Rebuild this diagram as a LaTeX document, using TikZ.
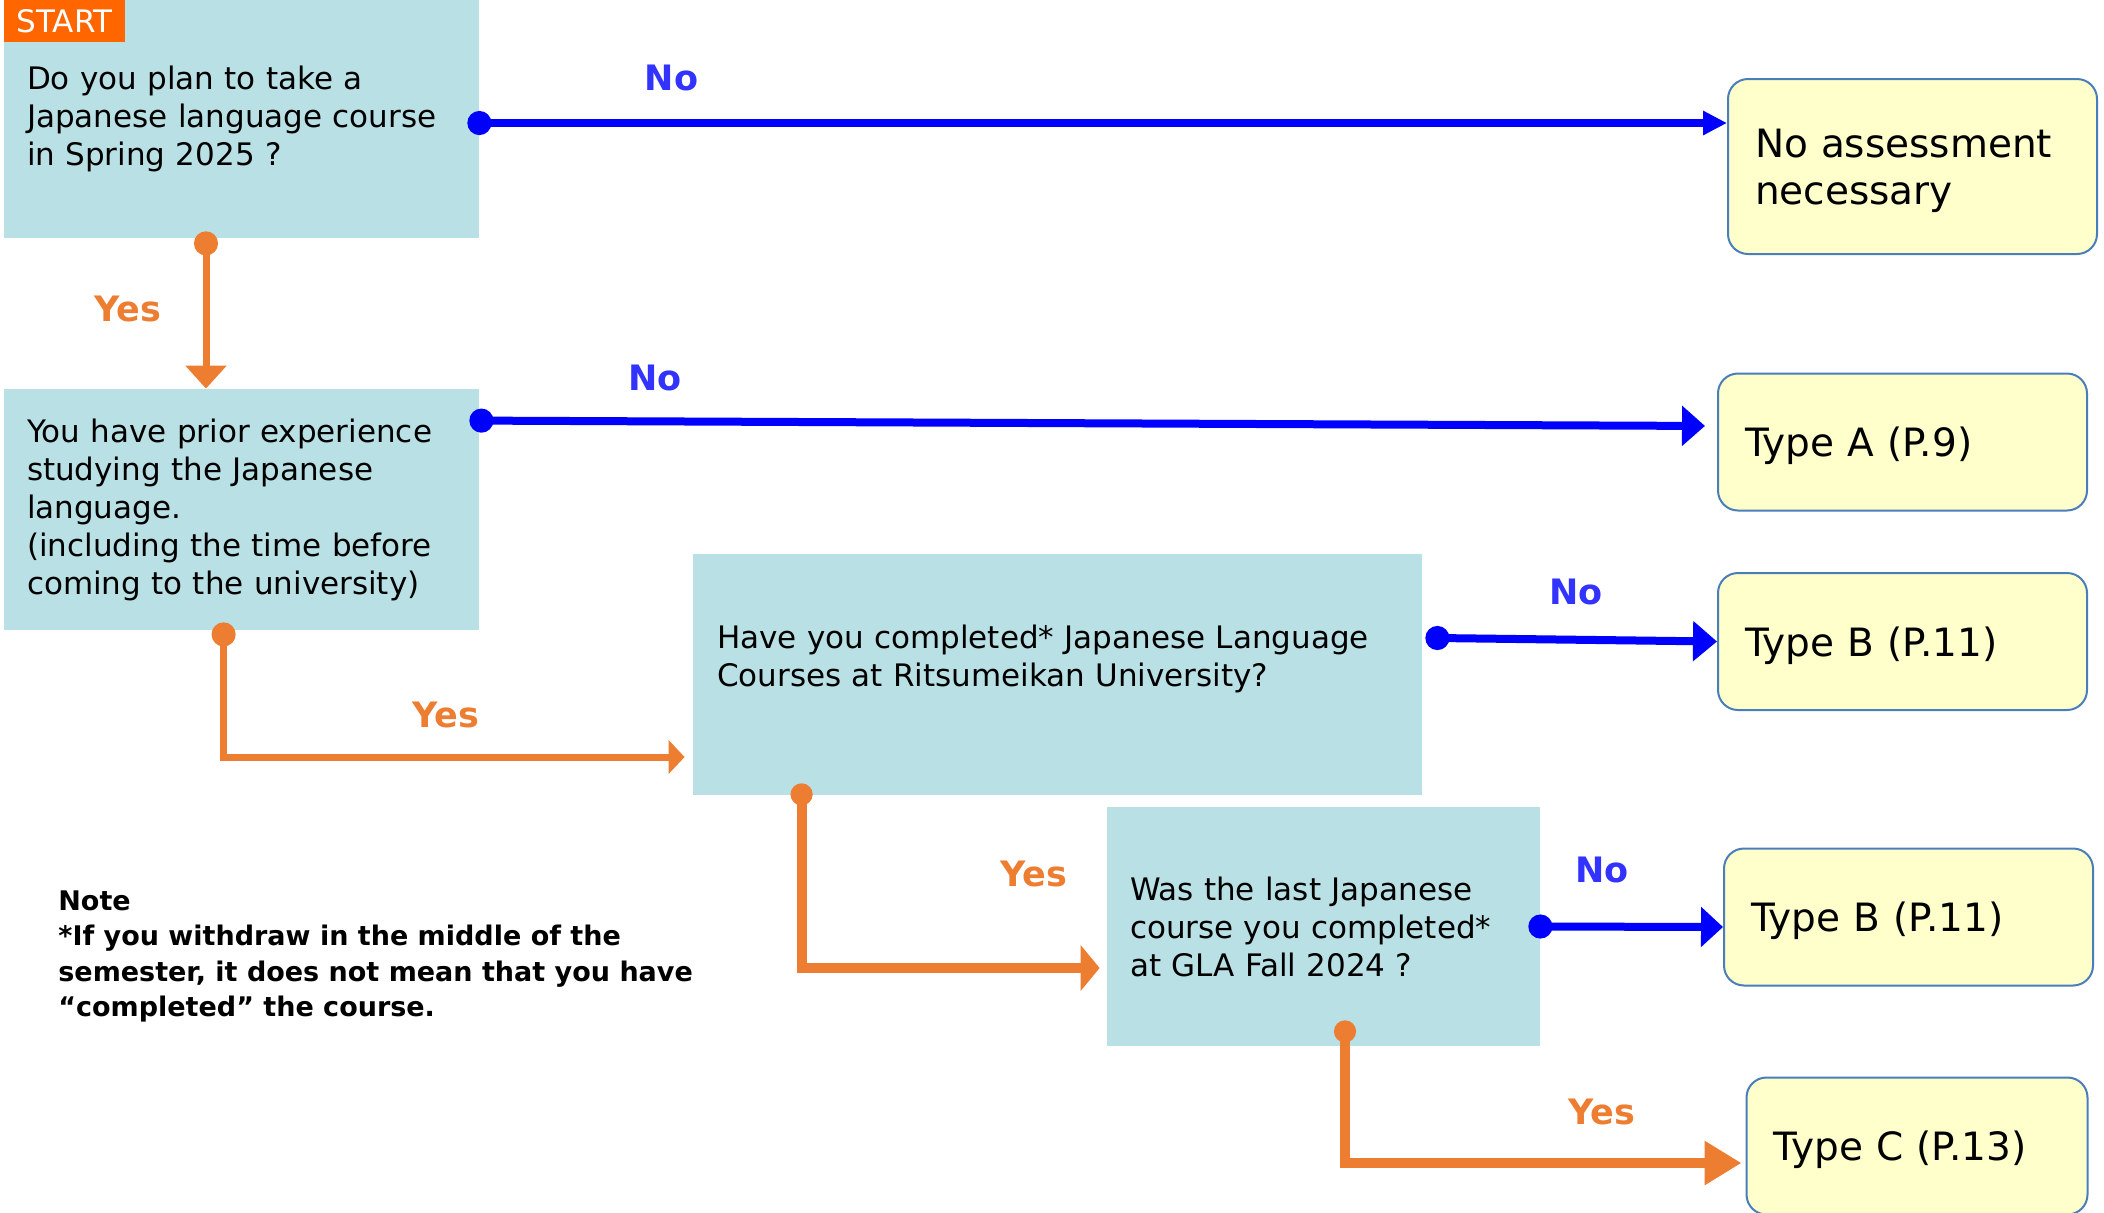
\documentclass[tikz,border=0pt]{standalone}
\usepackage{fontspec}
\setmainfont{DejaVu Sans}
\usetikzlibrary{arrows.meta}
\definecolor{qbleu}{RGB}{185,224,228}
\definecolor{rjaune}{RGB}{255,255,204}
\definecolor{rbord}{RGB}{74,126,187}
\definecolor{orangeoui}{RGB}{237,125,49}
\definecolor{orangestart}{RGB}{255,102,0}
\definecolor{bleunon}{RGB}{0,0,255}
\definecolor{textenon}{RGB}{51,51,255}

\begin{document}
\begin{tikzpicture}[x=0.5pt,y=-0.5pt]
      \tikzstyle{question}=[fill=qbleu, inner sep=0pt, align=left, font=\fontsize{15.5pt}{19pt}\selectfont]
      \tikzstyle{reponse}=[draw=rbord, line width=1pt, fill=rjaune, rounded corners=10pt, inner sep=0pt, align=left, text depth=0pt, minimum width=184.5pt, minimum height=68.5pt, text width=157.5pt, font=\fontsize{19.5pt}{23.5pt}\selectfont]
      \tikzstyle{non}=[inner sep=0pt, text=textenon, font=\fontsize{17.5pt}{21pt}\selectfont\bfseries]
      \tikzstyle{oui}=[inner sep=0pt, text=orangeoui, font=\fontsize{17.5pt}{21pt}\selectfont\bfseries]
      \tikzstyle{flechenon}=[draw=bleunon, line width=4pt, shorten <=-6pt]
      \tikzstyle{flecheoui}=[draw=orangeoui, line width=4pt, shorten <=-6pt]

      \useasboundingbox (0,0) rectangle (2104,1212);

      \node[question, minimum width=237.5pt, minimum height=119pt, text width=214.5pt] (Q1) at (241.5,119) {Do you plan to take a\\Japanese language course\\in Spring 2025 ?};
      \node[fill=orangestart, text=white, inner sep=0pt, minimum width=60.5pt, minimum height=21pt, font=\fontsize{15.5pt}{19pt}\selectfont] (Start) at (64.5,21) {START};
      \node[question, minimum width=237.5pt, minimum height=120.5pt, text width=214.5pt] (Q2) at (241.5,509.5) {You have prior experience\\studying the Japanese\\language.\\(including the time before\\coming to the university)};
      \node[question, minimum width=364.5pt, minimum height=120.5pt, text width=340.5pt, text depth=37.5pt] (Q3) at (1057.5,674.5) {Have you completed* Japanese Language\\Courses at Ritsumeikan University?};
      \node[question, minimum width=216.5pt, minimum height=119.5pt, text width=193.5pt] (Q4) at (1323.5,926.5) {Was the last Japanese\\course you completed*\\at GLA Fall 2024 ?};

      \node[reponse, minimum height=87.5pt, text depth=23.5pt] (Aucune) at (1912.5,166.5) {No assessment\\necessary};
      \node[reponse] (TypeA) at (1902.5,442) {Type A (P.9)};
      \node[reponse] (TypeB) at (1902.5,641.5) {Type B (P.11)};
      \node[reponse] (TypeBb) at (1908.5,917) {Type B (P.11)};
      \node[reponse, minimum width=170.5pt, text width=143.5pt] (TypeC) at (1917,1146) {Type C (P.13)};

      \node[anchor=north west, inner sep=0pt, align=left, font=\fontsize{13.5pt}{17.8pt}\selectfont\bfseries] (Note) at (58,890) {Note\\*If you withdraw in the middle of the\\semester, it does not mean that you have\\“completed” the course.};

      \node[non] (No1) at (671.5,77.5) {No};
      \node[non] (No2) at (655,378) {No};
      \node[non] (No3) at (1576,592) {No};
      \node[non] (No4) at (1602,870) {No};
      \node[oui] (Yes1) at (128,308.5) {Yes};
      \node[oui] (Yes2) at (446,715) {Yes};
      \node[oui] (Yes3) at (1034,873.5) {Yes};
      \node[oui] (Yes4) at (1602,1112) {Yes};

      \coordinate (n1) at ([yshift=-2pt]Q1.east);
      \coordinate (n2) at ([shift={(2,32)}]Q2.north east);
      \coordinate (n3) at ([shift={(15,-36.5)}]Q3.east);
      \coordinate (n4) at (Q4.east);
      \coordinate (o1) at ([shift={(-35.5,5)}]Q1.south);
      \coordinate (o2) at ([shift={(220,4)}]Q2.south west);
      \coordinate (o3) at ([shift={(109,0)}]Q3.south west);
      \coordinate (o4) at ([shift={(21.5,-14)}]Q4.south);

      \draw[flechenon, {Circle[length=12pt]}-{Triangle[length=12pt,width=11.5pt]}] (n1) -- (n1 -| Aucune.west);
      \draw[flechenon, {Circle[length=12pt]}-{Triangle[length=11.5pt,width=19.5pt]}, shorten >=6pt] (n2) -- ([yshift=8pt]TypeA.west);
      \draw[flechenon, {Circle[length=12pt]}-{Triangle[length=12pt,width=19.5pt]}] (n3) -- (TypeB.west);
      \draw[flechenon, {Circle[length=12pt]}-{Triangle[length=11pt,width=19.5pt]}] (n4) -- ([yshift=-5pt]TypeBb.west);

      \draw[flecheoui, line width=3.5pt, {Circle[length=12pt]}-{Triangle[length=11.5pt,width=20pt]}] (o1) -- (o1 |- Q2.north);
      \draw[flecheoui, line width=3.5pt, {Circle[length=12pt]}-{Triangle[length=8pt,width=16.5pt]}, shorten >=4pt] (o2) |- ([shift={(0,82.5)}]Q3.west);
      \draw[flecheoui, line width=5pt, {Circle[length=11pt]}-{Triangle[length=9.5pt,width=22.5pt]}, shorten >=3.5pt] (o3) |- ([shift={(0,41.5)}]Q4.west);
      \draw[flecheoui, line width=5pt, {Circle[length=11pt]}-{Triangle[length=18.5pt,width=21pt]}, shorten >=2pt] (o4) |- ([shift={(0,17)}]TypeC.west);

    \end{tikzpicture}
\end{document}
